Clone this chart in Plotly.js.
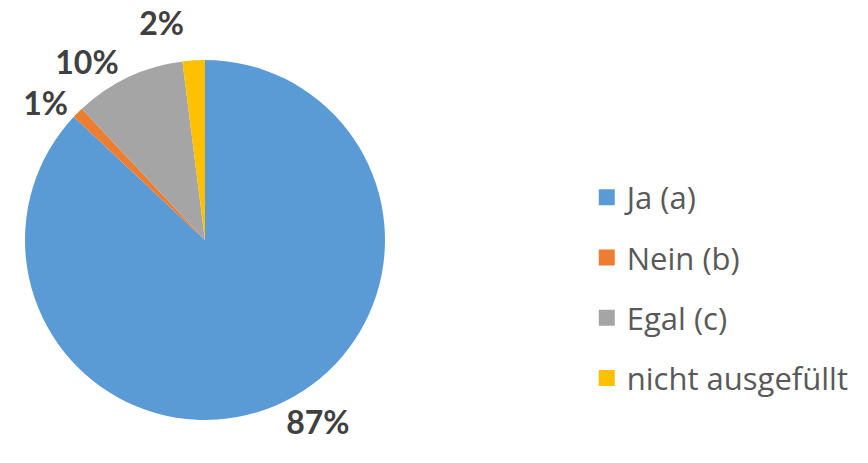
<!DOCTYPE html>
<html>
<head>
<meta charset="utf-8">
<script src="https://cdn.plot.ly/plotly-3.0.1.min.js"></script>
<style>html,body{margin:0;padding:0;background:#fff;}#chart{width:868px;height:463px;}#chart path.textline{display:none;}</style>
</head>
<body>
<div id="chart"></div>
<script>
const categories = ["Ja (a)", "Nein (b)", "Egal (c)", "nicht ausgefüllt"];
const values = [87, 1, 10, 2];
const colors = ["#5B9BD5", "#ED7D31", "#A5A5A5", "#FFC000"];

const pie = {
  type: "pie",
  labels: categories,
  values: values,
  sort: false,
  direction: "clockwise",
  rotation: 0,
  marker: {colors: colors, line: {width: 0}},
  textinfo: "percent",
  textposition: "outside",
  outsidetextfont: {family: "Lato, sans-serif", size: 32, color: "#404040", weight: "bold"},
  domain: {x: [25/868, 385/868], y: [1 - 420/463, 1 - 60/463]},
  showlegend: false,
  hoverinfo: "label+percent"
};

const legendTraces = categories.map((c, i) => ({
  type: "scatter",
  mode: "markers",
  x: [null], y: [null],
  name: c,
  legendgroup: "g" + i,
  marker: {symbol: "square", size: 20, color: colors[i]},
  showlegend: true,
  hoverinfo: "skip"
}));

const layout = {
  width: 868, height: 463,
  margin: {l: 0, r: 0, t: 0, b: 0},
  paper_bgcolor: "#ffffff",
  plot_bgcolor: "#ffffff",
  xaxis: {visible: false},
  yaxis: {visible: false},
  showlegend: true,
  legend: {
    x: 0.676, y: 0.378, xanchor: "left", yanchor: "middle",
    font: {family: "'Open Sans', sans-serif", size: 31, color: "#595959"},
    tracegroupgap: 17,
    itemwidth: 30,
    bgcolor: "rgba(0,0,0,0)"
  }
};

Plotly.newPlot("chart", [pie].concat(legendTraces), layout, {displayModeBar: false, staticPlot: true});
</script>
</body>
</html>
